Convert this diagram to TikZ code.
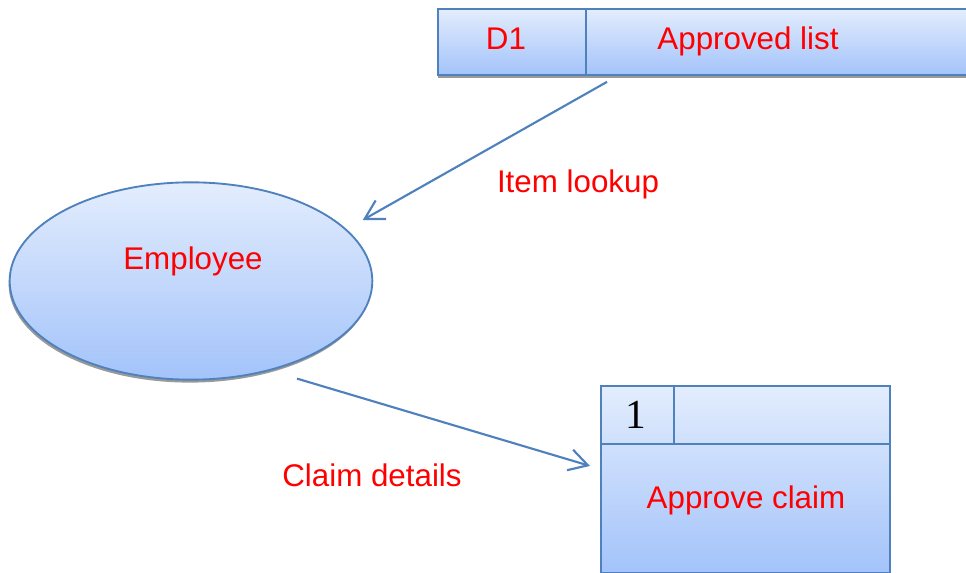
\documentclass[tikz,border=0pt]{standalone}
\usepackage{fontspec}
\setmainfont{Liberation Sans}
\newfontfamily\numfont{Liberation Serif}
\usetikzlibrary{shapes.geometric,shadows,arrows.meta}

\definecolor{dfdline}{HTML}{4F81BD}
\definecolor{dfdtop}{HTML}{E3EDFD}
\definecolor{dfdbottom}{HTML}{A3C3FA}
\definecolor{dfdred}{HTML}{FF0000}

\tikzset{
    dfdfill/.style={top color=dfdtop, bottom color=dfdbottom, draw=dfdline, line width=1.4pt},
    flow/.style={draw=dfdline, line width=1.6pt, -{Straight Barb[length=14pt,width=16pt]}},
    redtext/.style={text=dfdred, font=\fontsize{23.5}{28}\selectfont, anchor=base, inner sep=0pt},
}

\begin{document}
\begin{tikzpicture}[x=0.75pt, y=-0.75pt]
            \useasboundingbox (0,0) rectangle (966,573);

            % data store
            \node[dfdfill, rectangle, inner sep=0pt, anchor=north west,
                  minimum width=411pt, minimum height=49.5pt,
                  drop shadow={shadow xshift=0pt, shadow yshift=-2.2pt, fill=gray!80, opacity=1}] (store) at (437,8) {};
            \draw[draw=dfdline, line width=1.4pt] ([shift={(149,0)}]store.north west) -- ([shift={(149,0)}]store.south west);
            \node[redtext] (storeid) at (506,50) {D1};
            \node[redtext] (storename) at (748,50) {Approved list};

            % external entity
            \node[dfdfill, ellipse, inner sep=0pt, minimum width=272pt, minimum height=148pt,
                  drop shadow={shadow xshift=-0.8pt, shadow yshift=-2.2pt, fill=gray!80, opacity=1}] (employee) at (191,281) {};
            \node[redtext] (employeename) at (193,270) {Employee};

            % process
            \node[dfdfill, rectangle, inner sep=0pt, anchor=north west,
                  minimum width=216.75pt, minimum height=140.25pt] (proc) at (600,385) {};
            \draw[draw=dfdline, line width=1.4pt] ([shift={(0,59)}]proc.north west) -- ([shift={(0,59)}]proc.north east);
            \draw[draw=dfdline, line width=1.4pt] ([shift={(74,0)}]proc.north west) -- ([shift={(74,59)}]proc.north west);
            \node[anchor=base, inner sep=0pt, font=\numfont\fontsize{31}{36}\selectfont] (procid) at (636,428) {1};
            \node[redtext] (procname) at (746,508) {Approve claim};

            % flows
            \draw[flow] ([shift={(170,6)}]store.south west) -- ([shift={(-10.5,-61)}]employee.east);
            \node[redtext] (lookup) at (578,193) {Item lookup};
            \draw[flow] ([shift={(106,-2)}]employee.south) -- ([shift={(-10,-13.5)}]proc.west);
            \node[redtext] (details) at (372,486) {Claim details};
        \end{tikzpicture}
\end{document}
